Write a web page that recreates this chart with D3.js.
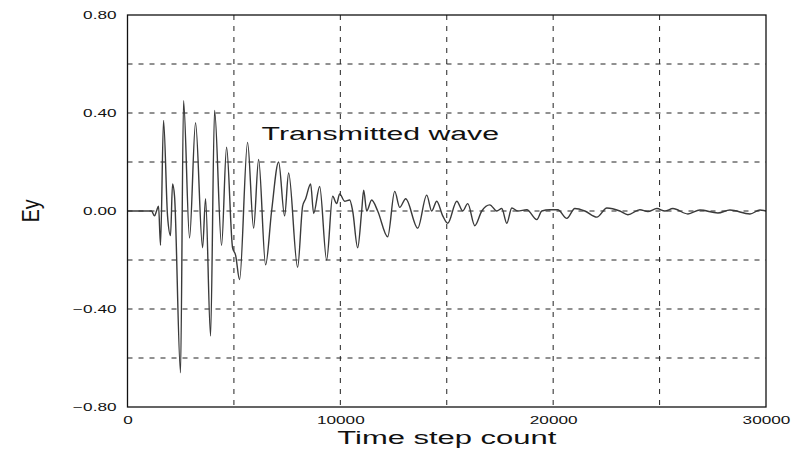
<!DOCTYPE html>
<html>
<head>
<meta charset="utf-8">
<script src="https://cdn.jsdelivr.net/npm/d3@7"></script>
<style>
  body { margin: 0; background: #fff; }
  svg { display: block; }
  text { font-family: "Liberation Sans", Arial, sans-serif; fill: #111; }
</style>
</head>
<body>
<script>
// time step count and Ey
const steps = [0, 1000, 1128, 1270, 1364, 1458, 1552, 1693, 1881, 2022, 2116, 2210, 2492, 2633,
  2915, 3197, 3527, 3668, 3903, 4091, 4420, 4655, 4937, 5078, 5266, 5642, 5925, 6160, 6489,
  6771, 7100, 7382, 7570, 7993, 8229, 8370, 8605, 8746, 9028, 9357, 9639, 9828, 9968, 10203,
  10439, 10580, 10815, 11003, 11097, 11238, 11473, 11755, 12225, 12555, 12790, 13072, 13636,
  14059, 14294, 14530, 14812, 15047, 15470, 15752, 15987, 16317, 16646, 17022, 17351, 17586,
  17821, 18056, 18339, 18762, 19232, 19467, 19843, 20219, 20642, 21018, 21489, 22053, 22523,
  23134, 23510, 24074, 24450, 24874, 25250, 25626, 26331, 26895, 27741, 28306, 29246, 29716, 30000]
const ey = [0, 0, 0, -0.02, 0, 0.02, -0.14, 0.37, -0.02, -0.10, 0.11, 0.06, -0.66, 0.45,
  -0.11, 0.36, -0.15, 0.05, -0.51, 0.41, -0.14, 0.26, -0.15, -0.18, -0.28, 0.28, -0.07, 0.21, -0.22,
  0, 0.20, -0.02, 0.155, -0.23, 0.02, 0.05, 0.11, -0.01, 0.10, -0.20, 0.06, 0.03, 0.07, 0.04,
  0.045, 0, -0.15, 0, 0.085, 0, 0.045, 0, -0.105, 0.08, 0.015, 0.05, -0.07,
  0.065, 0, 0.04, -0.02, -0.05, 0.04, 0, 0.03, -0.06, 0, 0.025, 0, 0.01,
  -0.05, 0.012, 0, 0.005, -0.035, 0, 0.005, 0.005, -0.03, 0.01, 0, -0.025, 0.012,
  0, -0.015, 0.005, -0.002, 0.01, 0, 0.01, -0.012, 0.004, -0.008, 0.004, -0.012, 0.004, 0]

const xTicks = [0, 10000, 20000, 30000]
const xGrid = [5000, 10000, 15000, 20000, 25000]
const yTicks = [0.8, 0.4, 0, -0.4, -0.8]
const yGrid = [0.6, 0.4, 0.2, 0, -0.2, -0.4, -0.6]

let width = 800
let height = 452
let plotLeft = 127.5, plotRight = 766, plotTop = 15, plotBottom = 407
let sx = 1.72 // the scan is stretched sideways, so is the lettering

const svg = d3.select("body")
  .append("svg")
  .attr("width", width)
  .attr("height", height)

const x = d3.scaleLinear().domain([0, 30000]).range([plotLeft, plotRight])
const y = d3.scaleLinear().domain([-0.8, 0.8]).range([plotBottom, plotTop])

// dashed grid
svg.append("g")
  .selectAll("line")
  .data(yGrid)
  .join("line")
    .attr("x1", plotLeft).attr("x2", plotRight)
    .attr("y1", d => y(d)).attr("y2", d => y(d))
    .attr("stroke", "#222")
    .attr("stroke-width", 1)
    .attr("stroke-dasharray", "5,6")

svg.append("g")
  .selectAll("line")
  .data(xGrid)
  .join("line")
    .attr("x1", d => x(d)).attr("x2", d => x(d))
    .attr("y1", plotTop).attr("y2", plotBottom)
    .attr("stroke", "#222")
    .attr("stroke-width", 1)
    .attr("stroke-dasharray", "5,6")

// the trace, smoothed between the read peaks and troughs
const line = d3.line()
  .x((d, i) => x(steps[i]))
  .y(d => y(d))
  .curve(d3.curveMonotoneX)

svg.append("path")
  .datum(ey)
  .attr("d", line)
  .attr("fill", "none")
  .attr("stroke", "#3a3a3a")
  .attr("stroke-width", 1.4)
  .attr("stroke-linejoin", "round")

// frame
svg.append("rect")
  .attr("x", plotLeft).attr("y", plotTop)
  .attr("width", plotRight - plotLeft).attr("height", plotBottom - plotTop)
  .attr("fill", "none")
  .attr("stroke", "#111")
  .attr("stroke-width", 1.3)

// axes
const yAxis = svg.append("g")
  .attr("transform", `translate(${plotLeft},0)`)
  .call(d3.axisLeft(y).tickValues(yTicks).tickSize(0).tickFormat(d3.format(".2f")))
yAxis.select(".domain").remove()
yAxis.selectAll("text")
  .attr("font-size", 10)
  .attr("font-family", "Liberation Sans, Arial, sans-serif")
  .attr("fill", "#111")
  .attr("x", -11 / sx)
  .attr("transform", `scale(${sx},1)`)

const xAxis = svg.append("g")
  .attr("transform", `translate(0,${plotBottom})`)
  .call(d3.axisBottom(x).tickValues(xTicks).tickSize(0).tickFormat(d3.format("d")))
xAxis.select(".domain").remove()
xAxis.selectAll("text")
  .attr("font-size", 10)
  .attr("font-family", "Liberation Sans, Arial, sans-serif")
  .attr("fill", "#111")
  .attr("y", 10)
  .attr("transform", `scale(${sx},1)`)

// titles
svg.append("text")
  .attr("transform", `translate(${(plotLeft + plotRight) / 2},444) scale(${sx},1)`)
  .attr("text-anchor", "middle")
  .attr("font-size", 18)
  .text("Time step count")

svg.append("text")
  .attr("transform", `translate(31,${y(0)}) rotate(-90) scale(1.3,1.6)`)
  .attr("text-anchor", "middle")
  .attr("dy", "0.35em")
  .attr("font-size", 15)
  .text("Ey")

svg.append("text")
  .attr("transform", `translate(${x(6300)},${y(0.29)}) scale(1.68,1)`)
  .attr("font-size", 18)
  .text("Transmitted wave")
</script>
</body>
</html>
